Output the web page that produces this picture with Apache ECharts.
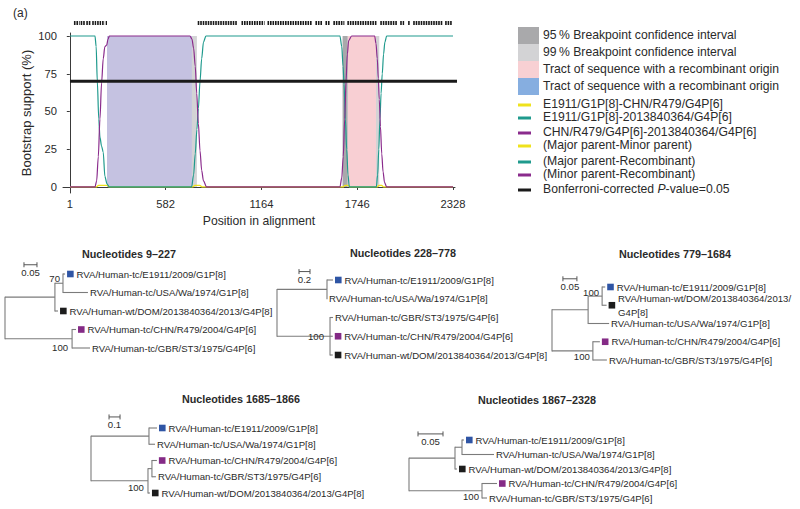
<!DOCTYPE html>
<html><head><meta charset="utf-8">
<script src="https://cdn.jsdelivr.net/npm/echarts@6/dist/echarts.min.js"></script>
<style>html,body{margin:0;padding:0;background:#fff}#c{width:800px;height:509px}</style>
</head><body><div id="c"></div>
<script>
const FONT = '"Liberation Sans", Arial, Helvetica, sans-serif';
const TXT = '#2a2a2a';

// ---------- (a) bootstrap support plot ----------
const xTickValues = [1, 582, 1164, 1746, 2328];
const yTickValues = [0, 25, 50, 75, 100];
// E1911/G1P[8]-CHN/R479/G4P[6]  (Major parent-Minor parent)
const pairE1911CHN = [[1,0],[160,0],[175,1],[200,1],[226,1],[240,0],[745,0],[760,1],[790,1],[805,0],[1660,0],[1672,1],[1690,1],[1700,0],[1866,0],[1878,1],[1895,1],[1905,0],[2328,0]];
// E1911/G1P[8]-2013840364/G4P[6]  (Major parent-Recombinant)
const pairE1911DOM = [[1,100],[153,100],[160,93],[167,70],[176,45],[183,33],[193,27],[203,23],[213,7],[226,2],[240,0],[740,0],[752,8],[762,22],[772,38],[781,52],[791,70],[801,85],[812,96],[827,100],[1641,100],[1652,93],[1660,80],[1666,68],[1674,45],[1682,25],[1690,8],[1698,0],[1862,0],[1870,8],[1877,25],[1884,45],[1891,62],[1898,75],[1906,88],[1914,96],[1925,100],[2328,100]];
// CHN/R479/G4P[6]-2013840364/G4P[6]  (Minor parent-Recombinant)
const pairCHNDOM = [[1,0],[153,0],[163,4],[173,20],[183,45],[193,69],[203,85],[213,93],[224,94],[232,98],[240,100],[730,100],[742,98],[752,92],[762,80],[771,62],[781,42],[791,24],[801,11],[812,4],[831,0],[1641,0],[1652,6],[1661,20],[1670,45],[1678,70],[1686,88],[1694,97],[1712,100],[1852,100],[1860,95],[1868,85],[1874,72],[1880,58],[1887,40],[1895,22],[1903,10],[1912,3],[1925,0],[2328,0]];
const bonferroniLine = [[1,70],[2383,70]];
const ci95 = [[1657,1688]];
const ci99 = [[742,772],[1860,1880]];
const tractPink = [[1688,1860]];
const tractBlue = [[226,742]];
const informativeSites = [[25,60],[66,95],[100,130],[136,160],[166,190],[196,212],[218,226],[777,1019],[1043,1183],[1201,1474],[1492,1534],[1553,1583],[1601,1668],[1686,1868],[1886,1989],[2007,2031],[2055,2068],[2086,2268],[2280,2322]];

// ---------- phylogenetic trees ----------
// [id, parent, branch length, leaf label, marker, support]
const L_E1911 = 'RVA/Human-tc/E1911/2009/G1P[8]';
const L_WA = 'RVA/Human-tc/USA/Wa/1974/G1P[8]';
const L_DOM = 'RVA/Human-wt/DOM/2013840364/2013/G4P[8]';
const L_CHN = 'RVA/Human-tc/CHN/R479/2004/G4P[6]';
const L_GBR = 'RVA/Human-tc/GBR/ST3/1975/G4P[6]';
const tree1 = [
  ['r', null, 0],
  ['A','r',0.192],
  ['EW','A',0.031,'',null,'70'],
  ['E','EW',0.008,L_E1911,'blue'],
  ['W','EW',0.096,L_WA],
  ['D','A',0.012,L_DOM,'black'],
  ['B','r',0.258,'',null,'100'],
  ['C','B',0.015,L_CHN,'purple'],
  ['G','B',0.069,L_GBR]
];
const tree2 = [
  ['r', null, 0],
  ['A','r',0.909],
  ['E','A',0.109,L_E1911,'blue'],
  ['W','A',0.0,L_WA],
  ['B','r',0.964,'',null,'100'],
  ['G','B',0.055,L_GBR],
  ['C','B',0.05,L_CHN,'purple'],
  ['D','B',0.05,L_DOM,'black']
];
const tree3 = [
  ['r', null, 0],
  ['A','r',0.129],
  ['ED','A',0.05,'',null,'100'],
  ['E','ED',0.011,L_E1911,'blue'],
  ['D','ED',0.016,'RVA/Human-wt/DOM/2013840364/2013/\nG4P[8]','black'],
  ['W','A',0.075,L_WA],
  ['B','r',0.146,'',null,'100'],
  ['C','B',0.025,L_CHN,'purple'],
  ['G','B',0.05,L_GBR]
];
const tree4 = [
  ['r', null, 0],
  ['A','r',0.527],
  ['E','A',0.073,L_E1911,'blue'],
  ['W','A',0.055,L_WA],
  ['B','r',0.518,'',null,'100'],
  ['CG','B',0.036],
  ['C','CG',0.045,L_CHN,'purple'],
  ['G','CG',0.036,L_GBR],
  ['D','B',0.018,L_DOM,'black']
];
const tree5 = [
  ['r', null, 0],
  ['A','r',0.092],
  ['EW','A',0.014],
  ['E','EW',0.004,L_E1911,'blue'],
  ['W','EW',0.064,L_WA],
  ['D','A',0.004,L_DOM,'black'],
  ['B','r',0.146,'',null,'100'],
  ['C','B',0.03,L_CHN,'purple'],
  ['G','B',0.01,L_GBR]
];
const treeTitles = ['Nucleotides 9\u2013227','Nucleotides 228\u2013778','Nucleotides 779\u20131684','Nucleotides 1685\u20131866','Nucleotides 1867\u20132328'];
const scaleBarLengths = [0.05, 0.2, 0.05, 0.1, 0.05];
const scaleBarLabels = ['0.05','0.2','0.05','0.1','0.05'];

// ---------- layout/styling (not data) ----------
const markerColors = {blue:'#2f55a5', black:'#1c1c1c', purple:'#842a86'};
const treeLayout = [
  {left:5,   top:274, width:260, height:74, xmax:1.0, titleX:129, titleY:254, sb:{x:0.073,row:-0.5}, sup:{EW:[-3,-5], B:[-4,9]}},
  {left:277, top:280, width:220, height:75, xmax:4.0, titleX:403, titleY:253, sb:{x:0.40,row:-0.45}, sup:{B:[-6,0]}},
  {left:552, top:287, width:224, height:73, xmax:0.8, titleX:675, titleY:254, sb:{x:0.039,row:-0.45}, sup:{ED:[-3,-4], B:[-3,6]}},
  {left:91,  top:428, width:220, height:65, xmax:2.0, titleX:241, titleY:399, sb:{x:0.164,row:-0.68}, sup:{B:[-4,7]}},
  {left:409, top:440, width:250, height:58, xmax:0.5, titleX:537, titleY:400, sb:{x:0.018,row:-0.42}, sup:{B:[-3,6]}}
];

function layoutTree(rows){
  const nodes = rows.map(r=>({id:r[0],parent:r[1],len:r[2]||0,label:r[3]||'',marker:r[4]||null,support:r[5]||'',children:[]}));
  const map = {}; nodes.forEach(n=>map[n.id]=n);
  let root = null;
  nodes.forEach(n=>{ if(n.parent===null) root=n; else map[n.parent].children.push(n); });
  let leaf = 0;
  (function walk(n, px){
    n.px = px; n.x = px + n.len;
    if(!n.children.length){ n.y = leaf++; }
    else { n.children.forEach(c=>walk(c, n.x)); n.y = (n.children[0].y + n.children[n.children.length-1].y)/2; }
  })(root, 0);
  return {nodes, leafCount: leaf};
}
const trees = [tree1,tree2,tree3,tree4,tree5].map(layoutTree);

function txt(text, x, y, align, vAlign, size, weight, extra){
  return Object.assign({type:'text', style:{text, x, y, align, textAlign:align, verticalAlign:vAlign, textVerticalAlign:vAlign,
    font:(weight||'normal')+' '+size+'px '+FONT, fill:TXT}}, extra||{});
}

function treeRender(ti){
  const T = trees[ti], cfg = treeLayout[ti];
  return function(params, api){
    const ch = [];
    const stroke = '#7b7b7b';
    T.nodes.forEach(n=>{
      const p = api.coord([n.x, n.y]);
      if(n.parent!==null){
        const pp = api.coord([n.px, n.y]);
        if(p[0]-pp[0] > 0.2) ch.push({type:'line', shape:{x1:pp[0],y1:p[1],x2:p[0],y2:p[1]}, style:{stroke, lineWidth:1.1}});
      }
      if(n.children.length){
        const a = api.coord([n.x, n.children[0].y]);
        const b = api.coord([n.x, n.children[n.children.length-1].y]);
        ch.push({type:'line', shape:{x1:a[0],y1:a[1]-0.5,x2:b[0],y2:b[1]+0.5}, style:{stroke, lineWidth:1.1}});
        if(n.support){
          const off = cfg.sup[n.id] || [-3,0];
          ch.push(txt(n.support, p[0]+off[0], p[1]+off[1], 'right', 'middle', 9.6));
        }
      } else {
        let tx = p[0] + 2;
        if(n.marker){
          ch.push({type:'rect', shape:{x:tx, y:p[1]-3.3, width:6.6, height:6.6}, style:{fill:markerColors[n.marker]}});
          tx += 9.5;
        }
        ch.push(txt(n.label, tx, p[1], 'left', 'middle', 9.6, 'normal', {}));
        if(n.label.indexOf('\n')>=0){ ch[ch.length-1].style.lineHeight = 14; }
      }
    });
    // scale bar
    const s0 = api.coord([cfg.sb.x, cfg.sb.row]);
    const s1 = api.coord([cfg.sb.x + scaleBarLengths[ti], cfg.sb.row]);
    ch.push({type:'line', shape:{x1:s0[0],y1:s0[1],x2:s1[0],y2:s1[1]}, style:{stroke:'#555', lineWidth:1}});
    ch.push({type:'line', shape:{x1:s0[0],y1:s0[1]-2.5,x2:s0[0],y2:s0[1]+2.5}, style:{stroke:'#555', lineWidth:1}});
    ch.push({type:'line', shape:{x1:s1[0],y1:s1[1]-2.5,x2:s1[0],y2:s1[1]+2.5}, style:{stroke:'#555', lineWidth:1}});
    ch.push(txt(scaleBarLabels[ti], (s0[0]+s1[0])/2, s0[1]+8, 'center', 'middle', 9.6));
    return {type:'group', children: ch};
  };
}

const regions = [
  ...tractBlue.map(r=>[r[0],r[1],'#c5c2e1']),
  ...tractPink.map(r=>[r[0],r[1],'#f8cfd3']),
  ...ci95.map(r=>[r[0],r[1],'#a9a9ab']),
  ...ci99.map(r=>[r[0],r[1],'#d3d3d5'])
];

const grids = [
  {left:63, top:33, width:392, height:160},
  {left:63, top:19, width:392, height:8}
];
const xAxes = [
  {gridIndex:0, type:'value', min:-41.4, max:2340, splitLine:{show:false},
   axisLine:{lineStyle:{color:'#3a3a3a', width:1}},
   axisTick:{show:true, length:3, customValues:xTickValues, lineStyle:{color:'#3a3a3a'}},
   axisLabel:{customValues:xTickValues, formatter:(v)=>String(Math.round(v)), color:TXT, fontSize:11.2, fontFamily:FONT, margin:5},
   name:'Position in alignment', nameLocation:'middle', nameGap:22,
   nameTextStyle:{color:TXT, fontSize:12.2, fontFamily:FONT}},
  {gridIndex:1, type:'value', min:-41.4, max:2340, show:false}
];
const yAxes = [
  {gridIndex:0, type:'value', min:-4, max:102, splitLine:{show:false},
   axisLine:{show:true, lineStyle:{color:'#3a3a3a', width:1}},
   axisTick:{show:true, length:3, customValues:yTickValues, lineStyle:{color:'#3a3a3a'}},
   axisLabel:{customValues:yTickValues, formatter:(v)=>String(Math.round(v)), color:TXT, fontSize:11.2, fontFamily:FONT, margin:6},
   name:'Bootstrap support (%)', nameLocation:'middle', nameGap:30, nameRotate:90,
   nameTextStyle:{color:TXT, fontSize:13, fontFamily:FONT}},
  {gridIndex:1, type:'value', min:0, max:1, show:false}
];
const series = [
  {type:'custom', xAxisIndex:0, yAxisIndex:0, silent:true, z:1, clip:true,
   data: regions.map(r=>[r[0], r[1]]),
   renderItem:(params, api)=>{
     const r = regions[params.dataIndex];
     const a = api.coord([r[0], 100]), b = api.coord([r[1], 0]);
     return {type:'rect', shape:{x:a[0], y:a[1], width:b[0]-a[0], height:b[1]-a[1]}, style:{fill:r[2]}};
   }},
  {type:'line', name:'E1911-CHN', data:pairE1911CHN, showSymbol:false, z:2, lineStyle:{color:'#efe21c', width:1.3}, smooth:0.3, smoothMonotone:'x'},
  {type:'line', name:'E1911-DOM', data:pairE1911DOM, showSymbol:false, z:3, lineStyle:{color:'#1f9a8d', width:1.2}, smooth:0.3, smoothMonotone:'x'},
  {type:'line', name:'CHN-DOM', data:pairCHNDOM, showSymbol:false, z:4, lineStyle:{color:'#8a2b8c', width:1.2}, smooth:0.3, smoothMonotone:'x'},
  {type:'line', name:'Bonferroni', data:bonferroniLine, showSymbol:false, z:5, clip:false, lineStyle:{color:'#1a1a1a', width:3}},
  {type:'custom', xAxisIndex:1, yAxisIndex:1, silent:true,
   data: informativeSites,
   renderItem:(params, api)=>{
     const a = api.coord([api.value(0), 0.5]), b = api.coord([api.value(1), 0.5]);
     return {type:'line', shape:{x1:a[0], y1:a[1], x2:b[0], y2:b[1]}, style:{stroke:'#1a1a1a', lineWidth:4, lineDash:[1.6,0.9]}};
   }}
];

const graphic = [];
graphic.push({type:'text', x:13, y:13, style:{text:'(a)', font:'12px '+FONT, fill:TXT, align:'left', textAlign:'left', verticalAlign:'middle', textVerticalAlign:'middle'}});

treeLayout.forEach((cfg, i)=>{
  const gi = grids.length;
  grids.push({left:cfg.left, top:cfg.top, width:cfg.width, height:cfg.height});
  xAxes.push({gridIndex:gi, type:'value', min:0, max:cfg.xmax, show:false});
  yAxes.push({gridIndex:gi, type:'value', min:0, max:trees[i].leafCount-1, inverse:true, show:false});
  series.push({type:'custom', xAxisIndex:gi, yAxisIndex:gi, silent:true, clip:false, data:[[0,0]], renderItem:treeRender(i)});
  graphic.push({type:'text', x:cfg.titleX, y:cfg.titleY, style:{text:treeTitles[i], font:'bold 10.8px '+FONT, fill:TXT,
    align:'center', textAlign:'center', verticalAlign:'middle', textVerticalAlign:'middle'}});
});

// legend (layout graphics)
const legendRects = [
  ['95\u2009% Breakpoint confidence interval','#a9a9ab'],
  ['99\u2009% Breakpoint confidence interval','#d3d3d5'],
  ['Tract of sequence with a recombinant origin','#f8d0d3'],
  ['Tract of sequence with a recombinant origin','#86aee0']
];
const legendLines = [
  ['E1911/G1P[8]-CHN/R479/G4P[6]','#efe21c'],
  ['E1911/G1P[8]-2013840364/G4P[6]','#1f9a8d'],
  ['CHN/R479/G4P[6]-2013840364/G4P[6]','#8a2b8c'],
  ['(Major parent-Minor parent)','#efe21c'],
  ['(Major parent-Recombinant)','#1f9a8d'],
  ['(Minor parent-Recombinant)','#8a2b8c'],
  ['Bonferroni-corrected {i|P}-value=0.05','#1a1a1a']
];
const rectY = [27, 44, 61, 78];
legendRects.forEach((it, i)=>{
  graphic.push({type:'rect', left:518, top:rectY[i], shape:{width:21, height:17}, style:{fill:it[1]}});
  graphic.push({type:'text', left:543, top:rectY[i]+2, style:{text:it[0], font:'12.2px '+FONT, fill:TXT}});
});
const lineY = [105, 118, 133, 146, 162, 175, 190];
legendLines.forEach((it, i)=>{
  graphic.push({type:'rect', left:518, top:lineY[i]-1.5, shape:{width:13, height:3}, style:{fill:it[1]}});
  graphic.push({type:'text', left:543, top:lineY[i]-7, style:{text:it[0], font:'12.2px '+FONT, fill:TXT,
    rich:{i:{fontStyle:'italic', fontSize:12.2, fontFamily:FONT, fill:TXT}}}});
});

const chart = echarts.init(document.getElementById('c'), null, {renderer:'svg'});
chart.setOption({
  animation:false,
  backgroundColor:'#fff',
  grid: grids,
  xAxis: xAxes,
  yAxis: yAxes,
  series: series,
  graphic: graphic
});
</script></body></html>
